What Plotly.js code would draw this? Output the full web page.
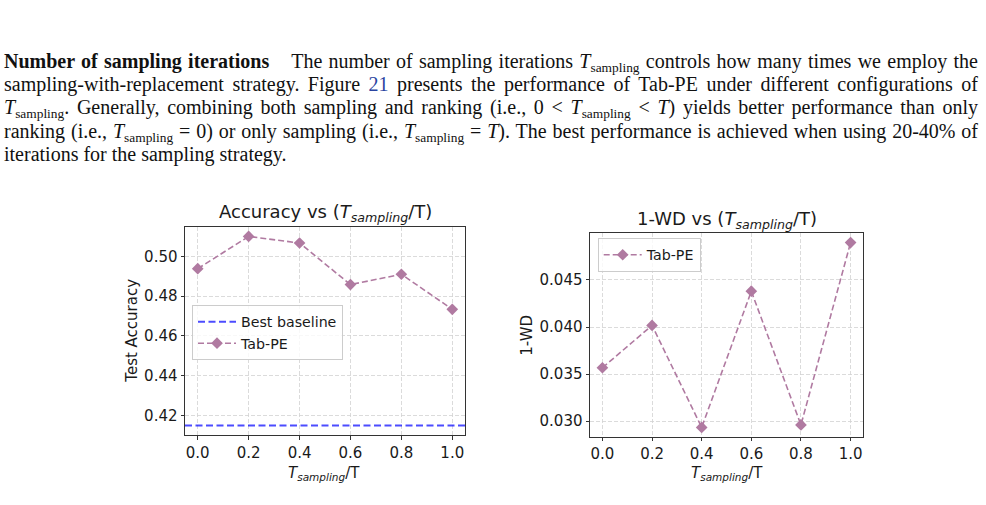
<!DOCTYPE html>
<html>
<head>
<meta charset="utf-8">
<script src="https://cdn.plot.ly/plotly-3.0.1.min.js"></script>
<style>
  html, body { margin: 0; padding: 0; background: #fff; }
  #wrap { position: relative; width: 986px; height: 505px; overflow: hidden; }
  #plot { position: absolute; left: 0; top: 0; width: 986px; height: 505px; }
  .ln {
    position: absolute; left: 4px; width: 974px; height: 23.4px; line-height: 23.4px;
    font-family: "Liberation Serif", "Times New Roman", serif; font-size: 20px; color: #111;
    text-align: justify; text-align-last: justify; white-space: normal; z-index: 5;
  }
  .ln.last { text-align-last: left; }
  .m { font-style: italic; }
  .sb { font-size: 13.4px; position: relative; top: 4px; font-style: normal; }
  .ref { color: #2a44a0; }
</style>
</head>
<body>
<div id="wrap">
  <div id="plot"></div>
  <div class="ln" style="top:49.5px"><b>Number of sampling iterations</b><span style="display:inline-block;width:22px"></span>The number of sampling iterations <span class="m">T</span><span class="sb">sampling</span> controls how many times we employ the</div>
  <div class="ln" style="top:72.9px">sampling-with-replacement strategy. Figure <span class="ref">21</span> presents the performance of Tab-PE under different configurations of</div>
  <div class="ln" style="top:96.3px"><span class="m">T</span><span class="sb">sampling</span>. Generally, combining both sampling and ranking (i.e., 0 &lt; <span class="m">T</span><span class="sb">sampling</span> &lt; <span class="m">T</span>) yields better performance than only</div>
  <div class="ln" style="top:119.7px">ranking (i.e., <span class="m">T</span><span class="sb">sampling</span> = 0) or only sampling (i.e., <span class="m">T</span><span class="sb">sampling</span> = <span class="m">T</span>). The best performance is achieved when using 20-40% of</div>
  <div class="ln last" style="top:143.1px">iterations for the sampling strategy.</div>
</div>
<script>
// ---- data ----
const samplingRatio = [0.0, 0.2, 0.4, 0.6, 0.8, 1.0];
const accuracyTabPE = [0.4938, 0.5100, 0.5067, 0.4858, 0.4910, 0.4734];
const accuracyBestBaseline = [0.415];
const wdTabPE = [0.03567, 0.04017, 0.02933, 0.0438, 0.0296, 0.04897];
const xTickVals = [0.0, 0.2, 0.4, 0.6, 0.8, 1.0];
const xTickText = ["0.0", "0.2", "0.4", "0.6", "0.8", "1.0"];
const accTickVals = [0.42, 0.44, 0.46, 0.48, 0.50];
const accTickText = ["0.42", "0.44", "0.46", "0.48", "0.50"];
const wdTickVals = [0.030, 0.035, 0.040, 0.045];
const wdTickText = ["0.030", "0.035", "0.040", "0.045"];

// matplotlib-style 5% auto margins
function padRange(vals) {
  const lo = Math.min(...vals), hi = Math.max(...vals), d = (hi - lo) * 0.05;
  return [lo - d, hi + d];
}

const tabColor = "#b07aa1";
const baseColor = "rgba(0,0,255,0.7)";
const FONT = "DejaVu Sans";
const TXT = "#1a1a1a";
const TICK = 15;

const dom1x = [185 / 986, 465 / 986], dom1y = [1 - 435 / 505, 1 - 227 / 505];
const dom2x = [590 / 986, 863 / 986], dom2y = [1 - 436.7 / 505, 1 - 233.3 / 505];

function axisX(domain, anchor) {
  return {
    domain: domain, anchor: anchor, range: padRange(samplingRatio),
    tickvals: xTickVals, ticktext: xTickText,
    showline: true, mirror: true, linecolor: "#333", linewidth: 1,
    ticks: "outside", ticklen: 3.5, tickcolor: "#333", tickwidth: 1,
    showgrid: true, gridcolor: "#d2d2d2", gridwidth: 0.8, griddash: "4px,2px",
    zeroline: false, tickfont: { family: FONT, size: TICK, color: TXT }
  };
}
function axisY(domain, anchor, tv, tt, range) {
  return {
    domain: domain, anchor: anchor, range: range,
    tickvals: tv, ticktext: tt,
    showline: true, mirror: true, linecolor: "#333", linewidth: 1,
    ticks: "outside", ticklen: 3.5, tickcolor: "#333", tickwidth: 1,
    showgrid: true, gridcolor: "#d2d2d2", gridwidth: 0.8, griddash: "4px,2px",
    zeroline: false, tickfont: { family: FONT, size: TICK, color: TXT }
  };
}

const traces = [
  {
    x: samplingRatio, y: accuracyTabPE, xaxis: "x", yaxis: "y",
    type: "scatter", mode: "lines+markers", name: "Tab-PE",
    line: { color: tabColor, width: 1.6, dash: "6px,3px" },
    marker: { symbol: "diamond", size: 9, color: tabColor },
    legend: "legend", legendrank: 2
  },
  {
    x: samplingRatio, y: wdTabPE, xaxis: "x2", yaxis: "y2",
    type: "scatter", mode: "lines+markers", name: "Tab-PE",
    line: { color: tabColor, width: 1.6, dash: "6px,3px" },
    marker: { symbol: "diamond", size: 9, color: tabColor },
    legend: "legend2"
  }
];

const accRange = padRange(accuracyTabPE.concat(accuracyBestBaseline));
const wdRange = padRange(wdTabPE);

const titleFont = { family: FONT, size: 18, color: TXT };
const labFont = { family: FONT, size: 15, color: TXT };
const xLab = "<i>T</i><sub><i>sampling</i></sub>/T";

const legendCommon = {
  xanchor: "left", yanchor: "top",
  bgcolor: "rgba(255,255,255,0.8)", bordercolor: "#cccccc", borderwidth: 1,
  itemwidth: 38,
  font: { family: FONT, size: 14.2, color: TXT }
};

const layout = {
  width: 986, height: 505,
  margin: { l: 0, r: 0, t: 0, b: 0 },
  paper_bgcolor: "#fff", plot_bgcolor: "#fff",
  font: { family: FONT, color: TXT },
  xaxis: axisX(dom1x, "y"),
  yaxis: axisY(dom1y, "x", accTickVals, accTickText, accRange),
  xaxis2: axisX(dom2x, "y2"),
  yaxis2: axisY(dom2y, "x2", wdTickVals, wdTickText, wdRange),
  shapes: [{
    type: "line", xref: "x domain", x0: 0, x1: 1,
    yref: "y", y0: accuracyBestBaseline[0], y1: accuracyBestBaseline[0],
    line: { color: baseColor, width: 2, dash: "7px,3.5px" },
    showlegend: true, name: "Best baseline", legend: "legend", legendrank: 1
  }],
  legend: Object.assign({ x: 192 / 986, y: 1 - 305 / 505 }, legendCommon),
  legend2: Object.assign({ x: 597.7 / 986, y: 1 - 238 / 505 }, legendCommon),
  annotations: [
    { text: "Accuracy vs (<i>T</i><sub><i>sampling</i></sub>/T)", xref: "paper", yref: "paper",
      x: (dom1x[0] + dom1x[1]) / 2, y: 1 - 213 / 505, xanchor: "center", yanchor: "middle",
      showarrow: false, font: titleFont },
    { text: "1-WD vs (<i>T</i><sub><i>sampling</i></sub>/T)", xref: "paper", yref: "paper",
      x: (dom2x[0] + dom2x[1]) / 2, y: 1 - 220 / 505, xanchor: "center", yanchor: "middle",
      showarrow: false, font: titleFont },
    { text: xLab, xref: "paper", yref: "paper",
      x: 324 / 986, y: 1 - 473 / 505, xanchor: "center", yanchor: "middle",
      showarrow: false, font: labFont },
    { text: xLab, xref: "paper", yref: "paper",
      x: 726.5 / 986, y: 1 - 473 / 505, xanchor: "center", yanchor: "middle",
      showarrow: false, font: labFont },
    { text: "Test Accuracy", xref: "paper", yref: "paper", textangle: -90,
      x: 131.7 / 986, y: 1 - 331 / 505, xanchor: "center", yanchor: "middle",
      showarrow: false, font: labFont },
    { text: "1-WD", xref: "paper", yref: "paper", textangle: -90,
      x: 526.7 / 986, y: 1 - 335 / 505, xanchor: "center", yanchor: "middle",
      showarrow: false, font: labFont }
  ]
};

Plotly.newPlot("plot", traces, layout, { staticPlot: true, displayModeBar: false });
</script>
</body>
</html>
